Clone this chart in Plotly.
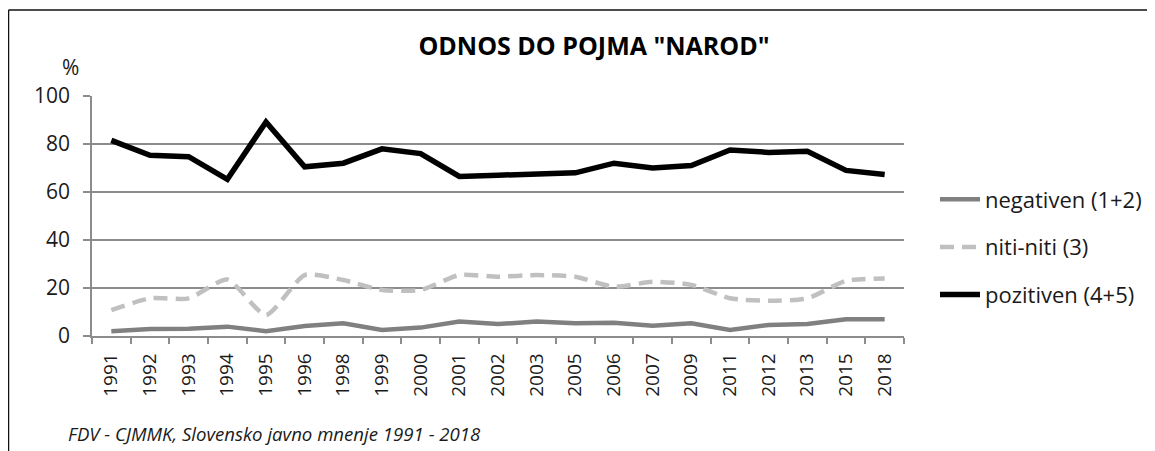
import plotly.graph_objects as go

years = ["1991", "1992", "1993", "1994", "1995", "1996", "1998", "1999", "2000", "2001",
         "2002", "2003", "2005", "2006", "2007", "2009", "2011", "2012", "2013", "2015", "2018"]
negativen = [2.0, 2.9, 3.0, 3.9, 2.0, 4.2, 5.3, 2.5, 3.5, 6.0,
             5.0, 6.0, 5.3, 5.5, 4.3, 5.3, 2.5, 4.6, 5.0, 7.0, 7.0]
niti_niti = [10.8, 15.7, 15.7, 23.5, 8.7, 25.4, 23.3, 19.2, 19.2, 25.4,
             24.7, 25.4, 24.7, 20.5, 22.6, 21.3, 15.7, 14.7, 15.7, 23.0, 24.0]
pozitiven = [81.5, 75.3, 74.7, 65.3, 89.2, 70.5, 72.0, 78.0, 76.0, 66.5,
             67.0, 67.3, 68.0, 72.0, 70.0, 71.0, 77.5, 76.5, 77.0, 69.0, 67.3]
names = ["negativen (1+2)", "niti-niti (3)", "pozitiven (4+5)"]
title_text = 'ODNOS DO POJMA "NAROD"'
source_text = "FDV - CJMMK, Slovensko javno mnenje 1991 - 2018"

FONT = "Open Sans"
OFF = 8  # default page body margin
W, H = 1155 - OFF, 451 - OFF
# plot area in page pixels: x 92..904, y 96..336
L, R = 92 - OFF, 1155 - 904
T, B = 96 - OFF, 451 - 336
PW, PH = W - L - R, H - T - B

def px_x(p):
    return (p - OFF - L) / PW

def px_y(p):
    return (H - B - (p - OFF)) / PH

fig = go.Figure()
fig.add_trace(go.Scatter(x=years, y=negativen, name=names[0], mode="lines",
                         line=dict(color="#808080", width=4.5), legendgroup="a"))
fig.add_trace(go.Scatter(x=years, y=niti_niti, name=names[1], mode="lines",
                         line=dict(color="#c0c0c0", width=4.5, dash="14px,8px",
                                   shape="spline", smoothing=0.6), legendgroup="b"))
fig.add_trace(go.Scatter(x=years, y=pozitiven, name=names[2], mode="lines",
                         line=dict(color="#000000", width=5.5), legendgroup="c"))

fig.update_layout(
    width=W, height=H,
    margin=dict(l=L, r=R, t=T, b=B, autoexpand=False),
    paper_bgcolor="white", plot_bgcolor="white",
    font=dict(family=FONT, size=20, color="#1a1a1a"),
    title=dict(text="<b>" + title_text + "</b>", x=px_x(594), xref="paper", xanchor="center",
               y=1 - (46 - OFF) / H, yref="container", yanchor="middle",
               font=dict(family=FONT, size=25, color="#000000")),
    showlegend=True,
    legend=dict(x=px_x(935), xanchor="left", y=px_y(247), yanchor="middle",
                font=dict(family=FONT, size=22, color="#1a1a1a"),
                tracegroupgap=16, itemwidth=40, bgcolor="rgba(0,0,0,0)"),
    xaxis=dict(type="category", range=[-0.5, len(years) - 0.5],
               showline=True, linecolor="#8c8c8c", linewidth=1.5,
               ticks="outside", tickson="boundaries", ticklen=6, tickcolor="#8c8c8c", tickwidth=1.5,
               tickangle=-90, showgrid=False, tickfont=dict(size=19), ticklabelstandoff=8,
               fixedrange=True),
    yaxis=dict(range=[0, 100], tickvals=[0, 20, 40, 60, 80, 100],
               showline=True, linecolor="#8c8c8c", linewidth=1.5,
               ticks="outside", ticklen=7, tickcolor="#8c8c8c", tickwidth=1.5,
               showgrid=True, gridcolor="#8c8c8c", gridwidth=1.5, zeroline=False,
               tickfont=dict(size=21), ticklabelstandoff=9, fixedrange=True),
    shapes=[
        dict(type="line", xref="paper", yref="paper", x0=px_x(8.5), x1=px_x(1200),
             y0=px_y(10), y1=px_y(10), line=dict(color="#111111", width=1.5)),
        dict(type="line", xref="paper", yref="paper", x0=px_x(8.5), x1=px_x(8.5),
             y0=px_y(10), y1=px_y(470), line=dict(color="#111111", width=1.5)),
    ],
    annotations=[
        dict(text="%", xref="paper", yref="paper", x=px_x(70), y=px_y(67),
             xanchor="center", yanchor="middle", showarrow=False,
             font=dict(family=FONT, size=21, color="#1a1a1a")),
        dict(text="<i>" + source_text + "</i>", xref="paper", yref="paper",
             x=px_x(66), y=px_y(433), xanchor="left", yanchor="middle", showarrow=False,
             font=dict(family=FONT, size=18.6, color="#1a1a1a")),
    ],
)

fig.write_html("out.html")
